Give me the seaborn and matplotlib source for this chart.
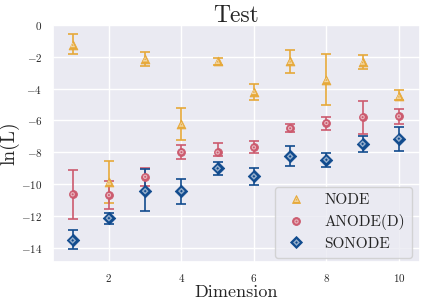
import numpy as np
import pandas as pd
import matplotlib
matplotlib.use("Agg")
import matplotlib.pyplot as plt
import seaborn as sns
from matplotlib.legend_handler import HandlerTuple
from matplotlib.lines import Line2D

dims = [1, 2, 3, 4, 5, 6, 7, 8, 9, 10]

node_mean = [-1.25, -9.9, -2.15, -6.25, -2.3, -4.2, -2.3, -3.45, -2.35, -4.5]
node_hi = [-0.6, -8.55, -1.7, -5.25, -2.05, -3.7, -1.6, -1.8, -1.9, -4.1]
node_lo = [-1.8, -11.2, -2.6, -7.25, -2.55, -4.75, -3.05, -5.05, -2.8, -4.75]

anode_mean = [-10.65, -10.7, -9.55, -8.0, -8.02, -7.7, -6.5, -6.17, -5.8, -5.75]
anode_hi = [-9.15, -9.8, -9.0, -7.55, -7.45, -7.3, -6.25, -5.77, -4.8, -5.3]
anode_lo = [-12.2, -11.6, -10.1, -8.45, -8.27, -8.08, -6.75, -6.6, -6.83, -6.25]

sonode_mean = [-13.55, -12.15, -10.45, -10.45, -9.02, -9.52, -8.27, -8.48, -7.48, -7.15]
sonode_hi = [-12.9, -11.8, -9.05, -9.7, -8.65, -9.0, -7.6, -8.04, -6.98, -6.4]
sonode_lo = [-14.1, -12.5, -11.7, -11.25, -9.45, -10.06, -8.9, -8.92, -8.02, -7.9]

series_names = ["NODE", "ANODE(D)", "SONODE"]
colors = ["#e6a93a", "#cc5a6e", "#114b8e"]
markers = ["^", "o", "D"]

sns.set_theme(style="darkgrid")
plt.rcParams["font.family"] = ["cmr10", "DejaVu Serif"]
plt.rcParams["axes.formatter.use_mathtext"] = True
plt.rcParams["mathtext.fontset"] = "cm"

fig = plt.figure(figsize=(4.22, 3.0), dpi=100)
ax = fig.add_axes([0.125, 0.127, 0.870, 0.79])

series = [
    (node_mean, node_lo, node_hi),
    (anode_mean, anode_lo, anode_hi),
    (sonode_mean, sonode_lo, sonode_hi),
]
sizes = [(40, 12, 2), (32, 10, 2), (40, 12, 2)]

handles = []
for name, (m, lo, hi), c, mk, (s1, s2, s3) in zip(series_names, series, colors, markers, sizes):
    m = np.array(m); lo = np.array(lo); hi = np.array(hi)
    yerr = np.vstack([m - lo, hi - m])
    ax.errorbar(dims, m, yerr=yerr, fmt="none", ecolor=c, elinewidth=1.2,
                capsize=3.3, capthick=1.2, zorder=2)
    df = pd.DataFrame({"x": dims, "y": m})
    sns.scatterplot(data=df, x="x", y="y", ax=ax, marker=mk, s=s1,
                    color=c, edgecolor=c, linewidth=0.6, zorder=3, legend=False)
    sns.scatterplot(data=df, x="x", y="y", ax=ax, marker=mk, s=s2,
                    color=(1, 1, 1, 0.55), edgecolor="none", linewidth=0, zorder=4, legend=False)
    sns.scatterplot(data=df, x="x", y="y", ax=ax, marker=mk, s=s3,
                    color=c, edgecolor="none", linewidth=0, zorder=5, legend=False)
    h1 = Line2D([], [], linestyle="none", marker=mk, markersize=np.sqrt(s1),
                markerfacecolor=c, markeredgecolor=c, markeredgewidth=0.6)
    h2 = Line2D([], [], linestyle="none", marker=mk, markersize=np.sqrt(s2),
                markerfacecolor=(1, 1, 1, 0.55), markeredgecolor="none")
    h3 = Line2D([], [], linestyle="none", marker=mk, markersize=np.sqrt(s3),
                markerfacecolor=c, markeredgecolor="none")
    handles.append((h1, h2, h3))

ax.set_xlim(0.45, 10.58)
ax.set_ylim(-14.9, 0)
ax.set_xticks([2, 4, 6, 8, 10])
ax.set_yticks([0, -2, -4, -6, -8, -10, -12, -14])
ax.tick_params(labelsize=8, pad=1.5)

ax.set_title("Test", fontsize=17, pad=2)
ax.set_xlabel("Dimension", fontsize=13, labelpad=0)
ax.set_ylabel("ln(L)", fontsize=14, labelpad=1)

leg = ax.legend(handles, series_names, handler_map={tuple: HandlerTuple(ndivide=1)},
                loc="lower right", fontsize=11, frameon=True, borderpad=0.45,
                handlelength=1.85, handletextpad=0.9, labelspacing=0.45,
                borderaxespad=0, bbox_to_anchor=(0.978, 0.018))

fig.savefig("out.png", dpi=100)
